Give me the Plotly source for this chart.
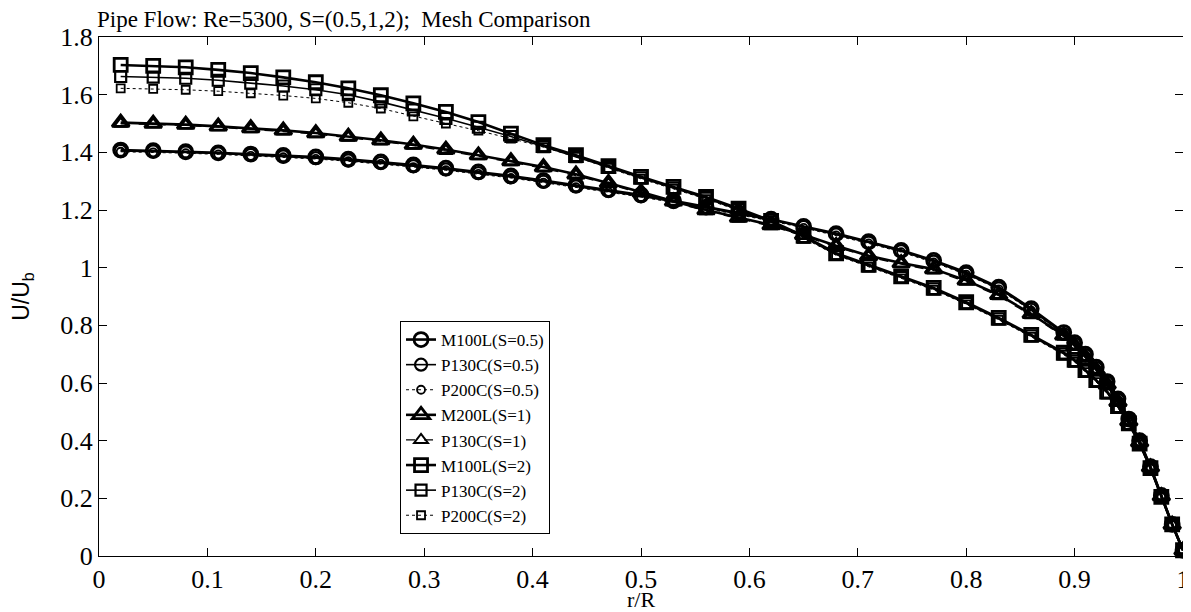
import plotly.graph_objects as go

r = [0.02, 0.05, 0.08, 0.11, 0.14, 0.17, 0.20, 0.23, 0.26, 0.29, 0.32, 0.35, 0.38, 0.41,
     0.44, 0.47, 0.50, 0.53, 0.56, 0.59, 0.62, 0.65, 0.68, 0.71, 0.74, 0.77, 0.80, 0.83,
     0.86, 0.89, 0.90, 0.91, 0.92, 0.93, 0.94, 0.95, 0.96, 0.97, 0.98, 0.99, 1.00]

m100l_s05 = [1.408, 1.406, 1.402, 1.398, 1.394, 1.389, 1.384, 1.376, 1.367, 1.356, 1.345, 1.332,
             1.318, 1.302, 1.286, 1.270, 1.252, 1.232, 1.210, 1.190, 1.168, 1.143, 1.118, 1.090,
             1.060, 1.025, 0.983, 0.932, 0.858, 0.775, 0.740, 0.700, 0.655, 0.605, 0.545, 0.475,
             0.400, 0.310, 0.210, 0.110, 0.020]
p130c_s05 = [1.405, 1.403, 1.400, 1.396, 1.391, 1.386, 1.380, 1.372, 1.363, 1.352, 1.341, 1.328,
             1.314, 1.298, 1.282, 1.266, 1.248, 1.229, 1.208, 1.187, 1.165, 1.141, 1.115, 1.087,
             1.057, 1.021, 0.979, 0.928, 0.854, 0.770, 0.736, 0.697, 0.652, 0.602, 0.542, 0.472,
             0.398, 0.308, 0.208, 0.109, 0.020]
p200c_s05 = [1.402, 1.400, 1.397, 1.393, 1.388, 1.383, 1.377, 1.369, 1.360, 1.349, 1.338, 1.325,
             1.311, 1.295, 1.279, 1.263, 1.245, 1.226, 1.205, 1.184, 1.162, 1.138, 1.112, 1.084,
             1.054, 1.018, 0.976, 0.925, 0.851, 0.767, 0.733, 0.694, 0.649, 0.599, 0.540, 0.470,
             0.396, 0.307, 0.207, 0.108, 0.020]
m200l_s1 = [1.503, 1.500, 1.496, 1.490, 1.484, 1.476, 1.467, 1.455, 1.442, 1.427, 1.410, 1.390,
            1.370, 1.349, 1.324, 1.294, 1.262, 1.230, 1.200, 1.174, 1.148, 1.114, 1.076, 1.041,
            1.016, 0.995, 0.956, 0.906, 0.840, 0.765, 0.730, 0.690, 0.645, 0.595, 0.535, 0.468,
            0.395, 0.308, 0.208, 0.109, 0.020]
p130c_s1 = [1.499, 1.497, 1.493, 1.487, 1.480, 1.472, 1.463, 1.451, 1.438, 1.423, 1.405, 1.386,
            1.366, 1.344, 1.319, 1.290, 1.258, 1.226, 1.196, 1.170, 1.144, 1.110, 1.072, 1.037,
            1.012, 0.990, 0.951, 0.901, 0.835, 0.760, 0.725, 0.686, 0.641, 0.591, 0.532, 0.465,
            0.393, 0.306, 0.207, 0.108, 0.020]
m100l_s2 = [1.703, 1.700, 1.695, 1.686, 1.675, 1.660, 1.643, 1.622, 1.598, 1.570, 1.540, 1.505,
            1.465, 1.425, 1.390, 1.352, 1.315, 1.280, 1.245, 1.205, 1.162, 1.110, 1.050, 1.010,
            0.970, 0.930, 0.880, 0.826, 0.767, 0.705, 0.680, 0.645, 0.610, 0.570, 0.520, 0.460,
            0.390, 0.305, 0.205, 0.110, 0.020]
p130c_s2 = [1.663, 1.661, 1.657, 1.650, 1.640, 1.630, 1.617, 1.600, 1.575, 1.547, 1.518, 1.487,
            1.455, 1.420, 1.385, 1.348, 1.311, 1.276, 1.241, 1.201, 1.158, 1.106, 1.046, 1.006,
            0.966, 0.926, 0.876, 0.822, 0.763, 0.701, 0.676, 0.641, 0.606, 0.566, 0.517, 0.457,
            0.388, 0.303, 0.204, 0.109, 0.020]
p200c_s2 = [1.622, 1.620, 1.617, 1.612, 1.605, 1.597, 1.587, 1.572, 1.552, 1.525, 1.500, 1.475,
            1.448, 1.418, 1.384, 1.346, 1.308, 1.273, 1.238, 1.198, 1.155, 1.103, 1.043, 1.003,
            0.963, 0.923, 0.873, 0.819, 0.760, 0.698, 0.673, 0.638, 0.603, 0.563, 0.514, 0.455,
            0.386, 0.302, 0.203, 0.108, 0.020]

names = ["M100L(S=0.5)", "P130C(S=0.5)", "P200C(S=0.5)", "M200L(S=1)", "P130C(S=1)",
         "M100L(S=2)", "P130C(S=2)", "P200C(S=2)"]
series = [m100l_s05, p130c_s05, p200c_s05, m200l_s1, p130c_s1, m100l_s2, p130c_s2, p200c_s2]

x_ticks = [0, 0.1, 0.2, 0.3, 0.4, 0.5, 0.6, 0.7, 0.8, 0.9, 1]
x_ticktext = ["0", "0.1", "0.2", "0.3", "0.4", "0.5", "0.6", "0.7", "0.8", "0.9", "1"]
y_ticks = [0, 0.2, 0.4, 0.6, 0.8, 1, 1.2, 1.4, 1.6, 1.8]
y_ticktext = ["0", "0.2", "0.4", "0.6", "0.8", "1", "1.2", "1.4", "1.6", "1.8"]

styles = [
    dict(sym="circle-open", size=14, lw=2.6, dash="solid", mlw=2.8),
    dict(sym="circle-open", size=12, lw=1.6, dash="solid", mlw=2.2),
    dict(sym="circle-open", size=8, lw=1.0, dash="dot", mlw=1.8),
    dict(sym="triangle-up-open", size=15, lw=2.6, dash="solid", mlw=2.8),
    dict(sym="triangle-up-open", size=12, lw=1.2, dash="dash", mlw=2.0),
    dict(sym="square-open", size=13, lw=2.6, dash="solid", mlw=2.8),
    dict(sym="square-open", size=11, lw=1.6, dash="solid", mlw=2.2),
    dict(sym="square-open", size=8, lw=1.0, dash="dot", mlw=1.8),
]

fig = go.Figure()
for i, (nm, ys, st) in enumerate(zip(names, series, styles)):
    fig.add_trace(go.Scatter(
        x=r, y=ys, name=nm, mode="lines+markers", legendgroup=str(i),
        cliponaxis=False,
        line=dict(color="black", width=st["lw"], dash=st["dash"]),
        marker=dict(symbol=st["sym"], size=st["size"], color="black",
                    line=dict(color="black", width=st["mlw"])),
    ))

serif = "Liberation Serif"
axis_common = dict(
    showline=True, linecolor="black", linewidth=1.2, mirror="ticks",
    ticks="inside", ticklen=8, tickcolor="black", tickwidth=1.2,
    showgrid=False, zeroline=False, automargin=False,
    tickfont=dict(family=serif, size=26, color="black"),
)
fig.update_xaxes(range=[0, 1], tickmode="array", tickvals=x_ticks, ticktext=x_ticktext,
                 title=dict(text="r/R", font=dict(family=serif, size=22, color="black"), standoff=0),
                 **axis_common)
fig.update_yaxes(range=[0, 1.8], tickmode="array", tickvals=y_ticks, ticktext=y_ticktext,
                 title=dict(text="U/U<sub>b</sub>",
                            font=dict(family="Liberation Sans", size=23, color="black"),
                            standoff=26),
                 **axis_common)

fig.update_layout(
    width=1183, height=604,
    font=dict(family=serif, color="black"),
    margin=dict(l=91, r=8, t=29, b=56),
    paper_bgcolor="white", plot_bgcolor="white",
    title=dict(text="Pipe Flow: Re=5300, S=(0.5,1,2);  Mesh Comparison",
               font=dict(family=serif, size=23, color="black"),
               x=0.0752, xanchor="left", xref="container",
               y=0.996, yanchor="top", yref="container"),
    legend=dict(x=0.2777, y=0.4528, xanchor="left", yanchor="top",
                bgcolor="white", bordercolor="black", borderwidth=1,
                font=dict(family=serif, size=17, color="black"),
                traceorder="grouped", tracegroupgap=0),
    showlegend=True,
)

fig.write_html("out.html")
